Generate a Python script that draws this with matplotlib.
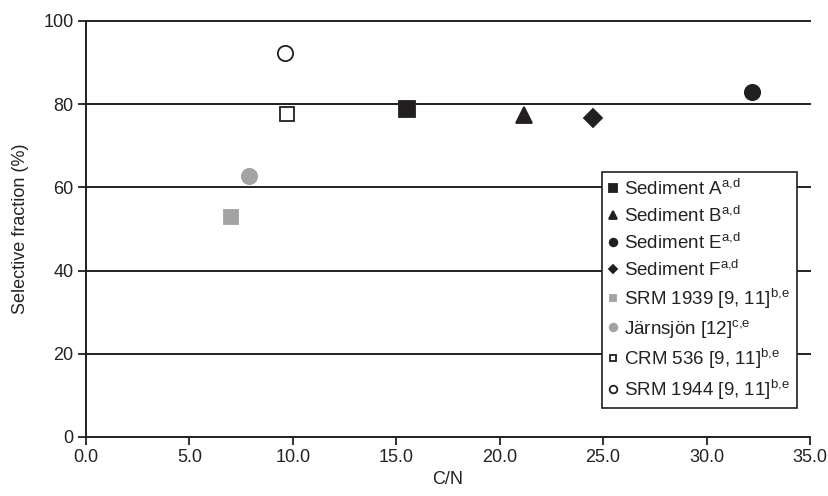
import matplotlib
matplotlib.use('Agg')
import matplotlib.pyplot as plt

plt.rcParams['font.family'] = ['Liberation Sans', 'DejaVu Sans']
plt.rcParams['mathtext.fontset'] = 'custom'
plt.rcParams['mathtext.rm'] = 'Liberation Sans'
plt.rcParams['mathtext.it'] = 'Liberation Sans'

# data: (label, C/N, selective fraction %)
labels = ['Sediment A$^{\\mathrm{a{,}d}}$', 'Sediment B$^{\\mathrm{a{,}d}}$',
          'Sediment E$^{\\mathrm{a{,}d}}$', 'Sediment F$^{\\mathrm{a{,}d}}$',
          'SRM 1939 [9, 11]$^{\\mathrm{b{,}e}}$', 'Järnsjön [12]$^{\\mathrm{c{,}e}}$',
          'CRM 536 [9, 11]$^{\\mathrm{b{,}e}}$', 'SRM 1944 [9, 11]$^{\\mathrm{b{,}e}}$']
cn = [15.5, 21.2, 32.2, 24.5, 7.0, 7.9, 9.7, 9.6]
frac = [78.8, 77.3, 82.8, 76.6, 52.9, 62.6, 77.7, 92.2]

dark = '#231f20'
grey = '#a3a3a3'
markers = ['s', '^', 'o', 'D', 's', 'o', 's', 'o']
faces = [dark, dark, dark, dark, grey, grey, 'white', 'white']
edges = [dark, dark, dark, dark, grey, grey, dark, dark]
sizes = [11, 12, 11, 9, 10, 11, 10, 11]

fig = plt.figure(figsize=(8.29, 4.96), dpi=100)
ax = fig.add_axes([0.1037, 0.119, 0.8733, 0.839])

for y in [20, 40, 60, 80, 100]:
    ax.axhline(y, color=dark, lw=1.4, zorder=1, clip_on=False)

handles = []
for i in range(len(cn)):
    h, = ax.plot(cn[i], frac[i], linestyle='none', marker=markers[i], ms=sizes[i],
                 mfc=faces[i], mec=edges[i], mew=1.3, label=labels[i], zorder=3)
    handles.append(h)

ax.set_xlim(0, 35)
ax.set_ylim(0, 100)
ax.set_xticks([0, 5, 10, 15, 20, 25, 30, 35])
ax.set_xticklabels(['%.1f' % v for v in [0, 5, 10, 15, 20, 25, 30, 35]])
ax.set_yticks([0, 20, 40, 60, 80, 100])
ax.tick_params(axis='both', direction='out', length=6, width=1.3, color=dark,
               labelsize=13, labelcolor='#222222', pad=3)
ax.spines['top'].set_visible(False)
ax.spines['right'].set_visible(False)
for s in ['left', 'bottom']:
    ax.spines[s].set_linewidth(1.4)
    ax.spines[s].set_color(dark)
ax.set_xlabel('C/N', fontsize=13, color='#222222', labelpad=3)
ax.set_ylabel('Selective fraction (%)', fontsize=13, color='#222222', labelpad=10)

leg = ax.legend(handles=handles, loc='upper left', bbox_to_anchor=(0.7127, 0.637),
                markerscale=0.5, fontsize=13.5, handlelength=0.5, handletextpad=0.35,
                labelspacing=0.37, borderpad=0.35, borderaxespad=0,
                frameon=True, fancybox=False, framealpha=1)
leg.get_frame().set_edgecolor(dark)
leg.get_frame().set_linewidth(1.2)
for t in leg.get_texts():
    t.set_color('#222222')

fig.savefig('out.png', dpi=100)
